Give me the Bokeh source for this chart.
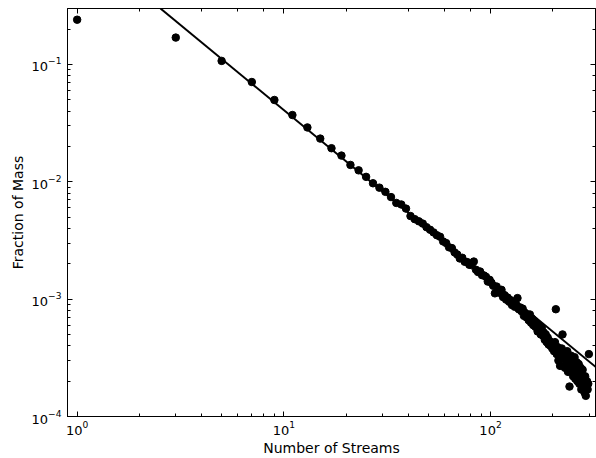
from bokeh.plotting import figure
from bokeh.models import LogAxis, LogTicker, Range1d
from bokeh.embed import file_html
from bokeh.resources import INLINE

# Number of streams (odd counts) and fraction of mass
streams = list(range(1, 300, 2))
fraction = [
    0.24, 0.169, 0.107, 0.0707, 0.0497, 0.037,
    0.0290, 0.0233, 0.0193, 0.0167, 0.0139, 0.0125, 0.0110, 0.0097, 0.0089, 0.0082,
    0.0074, 0.0066, 0.0064, 0.0059, 0.0051, 0.0048, 0.0046, 0.0044, 0.0041, 0.0039,
    0.0037, 0.0035, 0.0034, 0.0031,
    0.00300, 0.00276, 0.00272, 0.00250, 0.00240, 0.00222, 0.00225, 0.00208, 0.00207, 0.00196,
    0.00195, 0.00209, 0.00178, 0.00170, 0.00172, 0.00160, 0.00159, 0.00155, 0.00141, 0.00146,
    0.00138, 0.00130, 0.00112, 0.00128, 0.00118, 0.00113, 0.00120, 0.00104, 0.00108, 0.00099,
    0.00103, 0.00095, 0.00098, 0.00089, 0.00093, 0.00086, 0.00090, 0.00102, 0.00082, 0.00085,
    0.00079, 0.00083, 0.00072, 0.00076, 0.00070,
    0.00072, 0.00066, 0.00074, 0.00063, 0.00068, 0.00060, 0.00065, 0.00058, 0.00062, 0.00053,
    0.00060, 0.00055, 0.00050, 0.00057, 0.00049, 0.00052, 0.00045, 0.00050, 0.00043, 0.00047,
    0.00041, 0.00044, 0.00040, 0.00042, 0.00038,
    0.00040, 0.00036, 0.00043, 0.00082, 0.00034, 0.00039, 0.00030, 0.00036, 0.00027, 0.00033,
    0.00038, 0.00050, 0.00031, 0.00035, 0.00026, 0.00033, 0.00029, 0.00036, 0.00024, 0.00031,
    0.00018, 0.00028, 0.00033, 0.00025, 0.00030, 0.00022, 0.00027, 0.00032, 0.00021, 0.00025,
    0.00029, 0.00020, 0.00024, 0.00028, 0.00019, 0.00023, 0.00026, 0.00017, 0.00021, 0.00025,
    0.00017, 0.00020, 0.00016, 0.00022, 0.00015, 0.00018, 0.00020, 0.00017, 0.00019, 0.00034,
]

# Power-law fit line end points
fit_x = [2.53, 322.0]
fit_y = [0.299, 2.65e-4]

FONT = "DejaVu Sans"

p = figure(width=596, height=458, x_axis_type="log", y_axis_type="log",
           x_range=Range1d(0.898, 322), y_range=Range1d(1e-4, 0.299),
           output_backend="svg", toolbar_location=None)

p.min_border_left = 67
p.min_border_right = 1
p.min_border_top = 8
p.min_border_bottom = 10
p.background_fill_color = "white"
p.border_fill_color = "white"
p.outline_line_color = "black"
p.outline_line_width = 1
p.xgrid.visible = False
p.ygrid.visible = False

p.line(fit_x, fit_y, line_color="black", line_width=2)
p.scatter(streams, fraction, size=7.5, color="black")

def style(ax, labels=True):
    ax.axis_line_color = "black"
    ax.major_tick_in = 5
    ax.major_tick_out = 0
    ax.minor_tick_in = 3
    ax.minor_tick_out = 0
    ax.major_tick_line_color = "black"
    ax.minor_tick_line_color = "black"
    ax.major_label_text_font = FONT
    ax.major_label_text_color = "black"
    if labels:
        ax.major_label_text_font_size = "13px"
    else:
        ax.major_label_text_font_size = "1px"
        ax.major_label_text_color = None
        ax.major_label_standoff = 0

xa = p.xaxis[0]
ya = p.yaxis[0]
style(xa)
style(ya)
xa.axis_label = "Number of Streams"
ya.axis_label = "Fraction of Mass"
for ax in (xa, ya):
    ax.axis_label_text_font = FONT
    ax.axis_label_text_font_size = "14px"
    ax.axis_label_text_font_style = "normal"
    ax.axis_label_text_color = "black"
xa.major_label_standoff = 4
xa.axis_label_standoff = 2
ya.major_label_standoff = 6
ya.axis_label_standoff = 3

top = LogAxis(ticker=LogTicker())
right = LogAxis(ticker=LogTicker())
style(top, labels=False)
style(right, labels=False)
p.add_layout(top, "above")
p.add_layout(right, "right")

open("out.html", "w").write(file_html(p, INLINE))
